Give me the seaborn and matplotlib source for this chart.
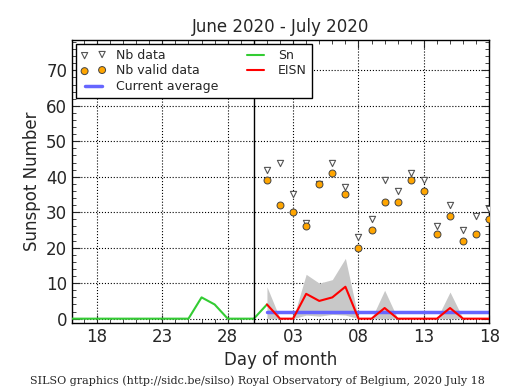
import matplotlib
matplotlib.use("Agg")
import matplotlib.pyplot as plt
import seaborn as sns
import pandas as pd
import numpy as np
from matplotlib.ticker import MultipleLocator

# days: June 1 = 1, July 1 = 31
sn_days = list(range(16, 32))
sn_vals = [0, 0, 0, 0, 0, 0, 0, 0, 0, 0, 6, 4, 0, 0, 0, 4]

eisn_days = list(range(31, 49))
eisn_vals = [4, 0, 0, 7, 5, 6, 9, 0, 0, 3, 0, 0, 0, 0, 3, 0, 0, 0]
eisn_low = [0, 0, 0, 1, 0.7, 1.2, 1, 0, 0, 0, 0, 0, 0, 0, 0, 0, 0, 0]
eisn_high = [9, 0, 0, 12.5, 10, 11, 17, 0, 0, 8, 0, 0, 0, 0, 7.5, 0, 0, 0]
nb_data = [42, 44, 35, 27, 38, 44, 37, 23, 28, 39, 36, 41, 39, 26, 32, 25, 29, 31]
nb_valid = [39, 32, 30, 26, 38, 41, 35, 20, 25, 33, 33, 39, 36, 24, 29, 22, 24, 28]
current_avg = 1.9

tick_pos = [18, 23, 28, 33, 38, 43, 48]
tick_labels = ["18", "23", "28", "03", "08", "13", "18"]

sns.set_style("ticks")
fig, ax = plt.subplots(figsize=(5.15, 3.9), dpi=100)
fig.subplots_adjust(left=0.14, right=0.95, top=0.897, bottom=0.172)

sn_df = pd.DataFrame({"day": sn_days, "Sn": sn_vals})
ei_df = pd.DataFrame({"day": eisn_days, "EISN": eisn_vals, "nb": nb_data, "valid": nb_valid})

ax.fill_between(eisn_days, eisn_low, eisn_high, color="#c8c8c8", lw=0, zorder=1)
ax.plot([eisn_days[0], eisn_days[-1]], [current_avg, current_avg], color="#6666ff", lw=2.5,
        label="Current average", zorder=2)
sns.scatterplot(data=ei_df, x="day", y="nb", marker="v", s=20, color="white",
                edgecolor="#555555", linewidth=0.8, ax=ax, label="Nb data", zorder=4)
sns.scatterplot(data=ei_df, x="day", y="valid", marker="o", s=25, color="orange",
                edgecolor="#444444", linewidth=0.7, ax=ax, label="Nb valid data", zorder=5)
sns.lineplot(data=sn_df, x="day", y="Sn", color="#33cc33", lw=1.5, ax=ax, label="Sn", zorder=3)
sns.lineplot(data=ei_df, x="day", y="EISN", color="red", lw=1.5, ax=ax, label="EISN", zorder=3)
ax.axvline(30, color="black", lw=1, zorder=3)

ax.set_xlim(16.1, 48)
ax.set_ylim(-1.2, 78.5)
ax.set_xticks(tick_pos)
ax.set_xticklabels(tick_labels)
ax.xaxis.set_minor_locator(MultipleLocator(1))
ax.yaxis.set_major_locator(MultipleLocator(10))
ax.yaxis.set_minor_locator(MultipleLocator(2))
ax.tick_params(which="both", direction="in", top=True, right=True, labelsize=12)
ax.tick_params(which="major", length=6)
ax.tick_params(which="minor", length=3)
ax.grid(True, which="major", color="black", linestyle=":", lw=0.8)
for s in ax.spines.values():
    s.set_color("black")
    s.set_linewidth(1)

ax.set_title("June 2020 - July 2020", fontsize=12)
ax.set_xlabel("Day of month", fontsize=12)
ax.set_ylabel("Sunspot Number", fontsize=12)

h, l = ax.get_legend_handles_labels()
order = ["Nb data", "Nb valid data", "Current average", "Sn", "EISN"]
hd = dict(zip(l, h))
leg = ax.legend([hd[k] for k in order], order, ncol=2, loc="upper left", fontsize=9,
                numpoints=2, scatterpoints=2, fancybox=False, edgecolor="black",
                framealpha=1, borderaxespad=0.3, columnspacing=2.0, handlelength=2,
                labelspacing=0.2)
leg.get_frame().set_linewidth(1)

fig.text(0.5, 0.015, "SILSO graphics (http://sidc.be/silso) Royal Observatory of Belgium, 2020 July 18",
         ha="center", fontsize=8, family="serif")

fig.savefig("out.png", dpi=100)
